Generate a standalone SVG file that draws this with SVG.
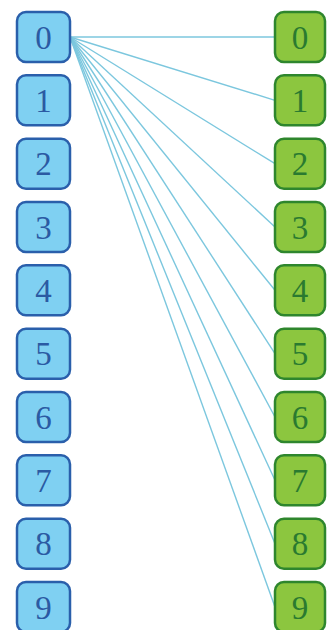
<svg xmlns="http://www.w3.org/2000/svg" width="327" height="630" viewBox="0 0 327 630">
<defs>
<style>
.l rect{fill:#7fd0f2;stroke:#2a5fab;stroke-width:2.5}
.r rect{fill:#8cc63f;stroke:#2e862d;stroke-width:2.5}
text{font-family:"Liberation Serif","Times New Roman",serif;font-size:33px;text-anchor:middle}
.l text{fill:#2b5aa3}
.r text{fill:#2a7a30}
#connectors line{stroke:#7cc7de;stroke-width:1.4}
</style>
</defs>
<rect width="327" height="630" fill="#ffffff"/>
<g id="connectors">
<line x1="70" y1="37" x2="275" y2="37"/>
<line x1="70" y1="37" x2="275" y2="100.3"/>
<line x1="70" y1="37" x2="275" y2="163.7"/>
<line x1="70" y1="37" x2="275" y2="227"/>
<line x1="70" y1="37" x2="275" y2="290.3"/>
<line x1="70" y1="37" x2="275" y2="353.7"/>
<line x1="70" y1="37" x2="275" y2="417"/>
<line x1="70" y1="37" x2="275" y2="480.3"/>
<line x1="70" y1="37" x2="275" y2="543.7"/>
<line x1="70" y1="37" x2="275" y2="607"/>
</g>
<g id="L0" class="l"><rect x="17" y="12" width="53" height="50" rx="9"/><text x="43.5" y="48.5">0</text></g>
<g id="L1" class="l"><rect x="17" y="75.3" width="53" height="50" rx="9"/><text x="43.5" y="111.8">1</text></g>
<g id="L2" class="l"><rect x="17" y="138.7" width="53" height="50" rx="9"/><text x="43.5" y="175.2">2</text></g>
<g id="L3" class="l"><rect x="17" y="202" width="53" height="50" rx="9"/><text x="43.5" y="238.5">3</text></g>
<g id="L4" class="l"><rect x="17" y="265.3" width="53" height="50" rx="9"/><text x="43.5" y="301.8">4</text></g>
<g id="L5" class="l"><rect x="17" y="328.7" width="53" height="50" rx="9"/><text x="43.5" y="365.2">5</text></g>
<g id="L6" class="l"><rect x="17" y="392" width="53" height="50" rx="9"/><text x="43.5" y="428.5">6</text></g>
<g id="L7" class="l"><rect x="17" y="455.3" width="53" height="50" rx="9"/><text x="43.5" y="491.8">7</text></g>
<g id="L8" class="l"><rect x="17" y="518.7" width="53" height="50" rx="9"/><text x="43.5" y="555.2">8</text></g>
<g id="L9" class="l"><rect x="17" y="582" width="53" height="50" rx="9"/><text x="43.5" y="618.5">9</text></g>
<g id="R0" class="r"><rect x="275" y="12" width="50" height="50" rx="9"/><text x="300" y="48.5">0</text></g>
<g id="R1" class="r"><rect x="275" y="75.3" width="50" height="50" rx="9"/><text x="300" y="111.8">1</text></g>
<g id="R2" class="r"><rect x="275" y="138.7" width="50" height="50" rx="9"/><text x="300" y="175.2">2</text></g>
<g id="R3" class="r"><rect x="275" y="202" width="50" height="50" rx="9"/><text x="300" y="238.5">3</text></g>
<g id="R4" class="r"><rect x="275" y="265.3" width="50" height="50" rx="9"/><text x="300" y="301.8">4</text></g>
<g id="R5" class="r"><rect x="275" y="328.7" width="50" height="50" rx="9"/><text x="300" y="365.2">5</text></g>
<g id="R6" class="r"><rect x="275" y="392" width="50" height="50" rx="9"/><text x="300" y="428.5">6</text></g>
<g id="R7" class="r"><rect x="275" y="455.3" width="50" height="50" rx="9"/><text x="300" y="491.8">7</text></g>
<g id="R8" class="r"><rect x="275" y="518.7" width="50" height="50" rx="9"/><text x="300" y="555.2">8</text></g>
<g id="R9" class="r"><rect x="275" y="582" width="50" height="50" rx="9"/><text x="300" y="618.5">9</text></g>
</svg>
